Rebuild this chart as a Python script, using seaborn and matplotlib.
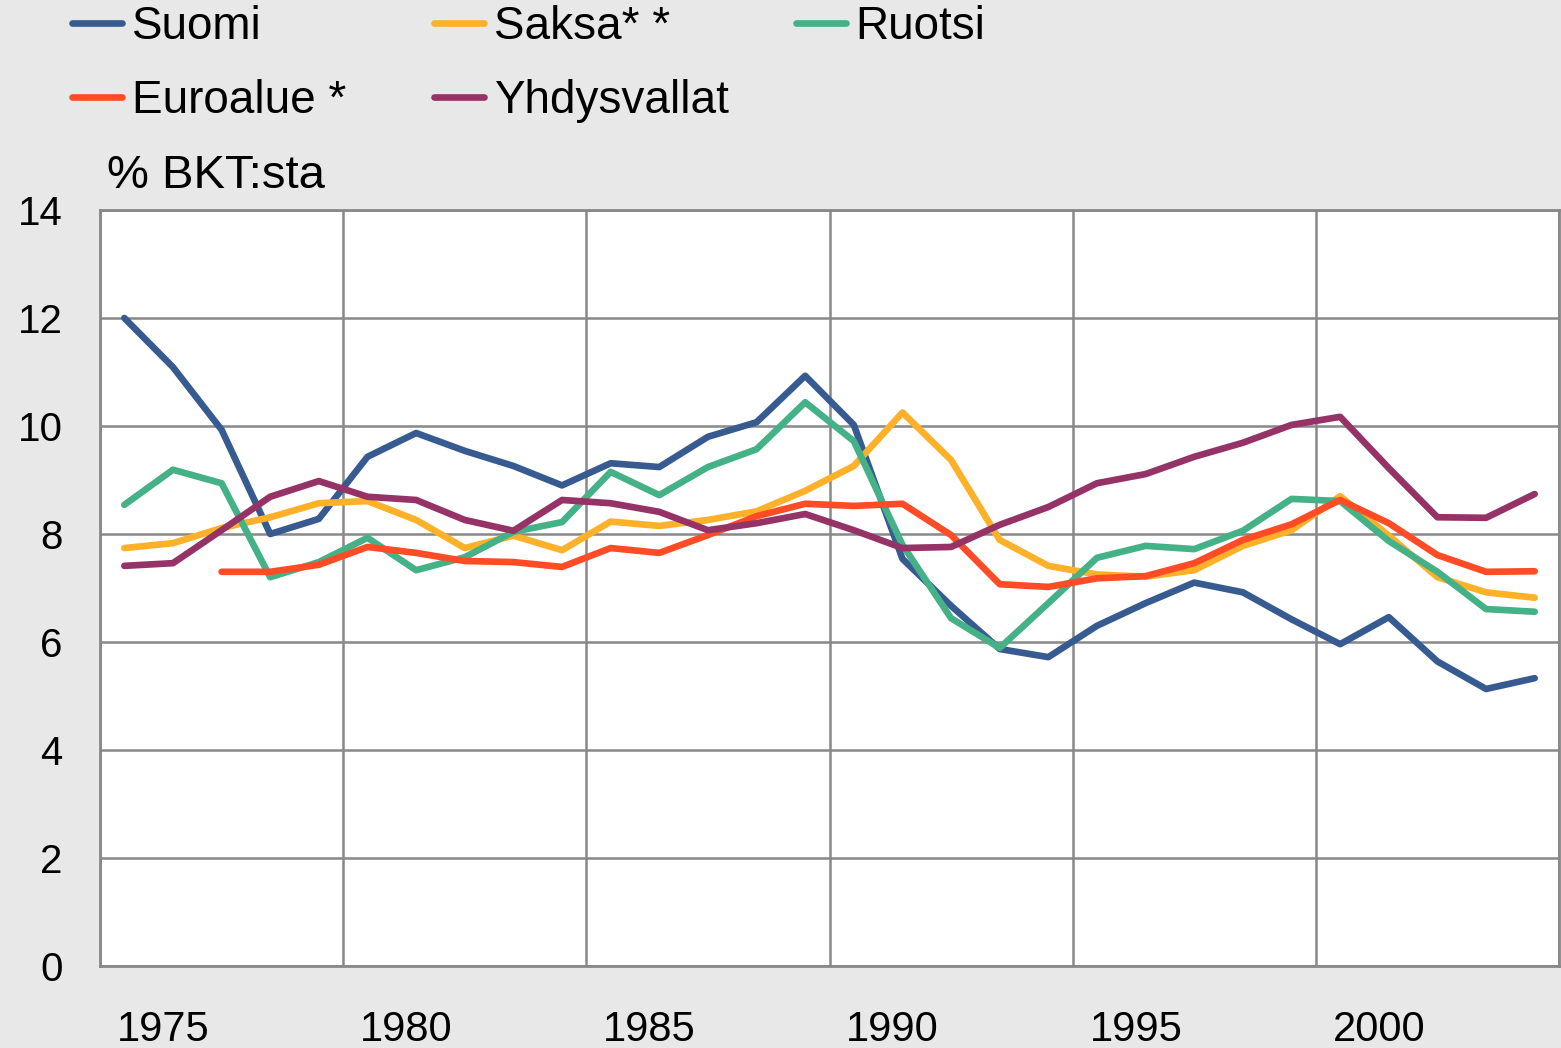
import numpy as np
import pandas as pd
import seaborn as sns
import matplotlib
matplotlib.use('Agg')
import matplotlib.pyplot as plt

# data
years = list(range(1974, 2004))
suomi = [12.0, 11.09, 9.93, 8.0, 8.28, 9.43, 9.87, 9.54, 9.26, 8.9, 9.31, 9.24, 9.8, 10.07, 10.93,
         10.02, 7.54, 6.67, 5.87, 5.72, 6.3, 6.72, 7.1, 6.92, 6.42, 5.96, 6.46, 5.64, 5.13, 5.33]
saksa = [7.74, 7.83, 8.11, 8.31, 8.57, 8.61, 8.26, 7.74, 7.97, 7.70, 8.23, 8.15, 8.26, 8.42, 8.8,
         9.26, 10.25, 9.37, 7.89, 7.41, 7.25, 7.21, 7.33, 7.78, 8.07, 8.70, 7.97, 7.2, 6.92, 6.82]
ruotsi = [8.54, 9.19, 8.94, 7.2, 7.48, 7.93, 7.33, 7.57, 8.04, 8.22, 9.15, 8.72, 9.24, 9.57, 10.44,
          9.72, 7.8, 6.44, 5.89, 6.72, 7.56, 7.78, 7.72, 8.06, 8.65, 8.61, 7.87, 7.3, 6.61, 6.56]
euroalue = [np.nan, np.nan, 7.3, 7.3, 7.43, 7.76, 7.65, 7.5, 7.48, 7.39, 7.74, 7.65, 7.98, 8.33, 8.56,
            8.52, 8.56, 7.98, 7.07, 7.02, 7.18, 7.22, 7.46, 7.89, 8.18, 8.63, 8.2, 7.61, 7.3, 7.31]
usa = [7.41, 7.46, 8.07, 8.69, 8.98, 8.69, 8.63, 8.26, 8.06, 8.63, 8.57, 8.41, 8.07, 8.2, 8.37,
       8.07, 7.74, 7.76, 8.17, 8.5, 8.94, 9.11, 9.43, 9.69, 10.02, 10.17, 9.22, 8.31, 8.30, 8.74]

names = ['Suomi', 'Saksa* *', 'Ruotsi', 'Euroalue *', 'Yhdysvallat']
colors = ['#375B91', '#FDB128', '#45B187', '#FF4C26', '#963366']
year_labels = ['1975', '1980', '1985', '1990', '1995', '2000']

df = pd.DataFrame({'vuosi': years, names[0]: suomi, names[1]: saksa, names[2]: ruotsi,
                   names[3]: euroalue, names[4]: usa})
long = df.melt(id_vars='vuosi', var_name='maa', value_name='arvo').dropna()

sns.set_style('white')
plt.rcParams['font.family'] = ['Liberation Sans', 'DejaVu Sans']
plt.rcParams['text.color'] = 'black'
plt.rcParams['xtick.color'] = 'black'
plt.rcParams['ytick.color'] = 'black'

grey = '#888888'
lw = 4.8
fig = plt.figure(figsize=(15.61, 10.48), dpi=100, facecolor='#E8E8E8')
ax = fig.add_axes([100 / 1561, 82 / 1048, 1459 / 1561, 756 / 1048])
ax.set_facecolor('white')

sns.lineplot(data=long, x='vuosi', y='arvo', hue='maa', hue_order=names,
             palette=colors, linewidth=lw, ax=ax, legend=False, zorder=3)
for ln in ax.get_lines():
    ln.set_solid_capstyle('round')
    ln.set_solid_joinstyle('round')

ax.set_xlim(years[0] - 0.5, years[-1] + 0.5)
ax.set_ylim(0, 14)
ax.set_yticks(range(0, 15, 2))
ax.set_yticklabels([str(v) for v in range(0, 15, 2)], fontsize=29)

# year labels, slightly left of the category centres as in the original
ax.set_xticks([int(y) - 0.2 for y in year_labels])
ax.set_xticklabels(year_labels, fontsize=30)
ax.tick_params(axis='x', which='major', length=0, pad=32)
ax.tick_params(axis='y', which='major', length=0, pad=27)
ax.set_xticks(np.arange(years[0] - 0.5, years[-1] + 1), minor=True)
ax.tick_params(axis='x', which='minor', direction='in', length=9, width=1, color=grey)

ax.yaxis.grid(True, color=grey, linewidth=1.8)
for b in np.arange(years[0] - 0.5, years[-1] + 1, 5):
    ax.axvline(b, color=grey, linewidth=1.8, zorder=1)
for s in ax.spines.values():
    s.set_color(grey)
    s.set_linewidth(2)
ax.set_xlabel('')
ax.set_ylabel('')

fig.text(107 / 1561, 1 - 188 / 1048, '% BKT:sta', fontsize=34, va='baseline')

# legend, three columns placed like the original
lines = ax.get_lines()
cols = [([0, 3], 72), ([1, 4], 434), ([2], 796)]
for idx, xpx in cols:
    leg = fig.legend([lines[i] for i in idx], [names[i] for i in idx],
                     loc='upper left', bbox_to_anchor=(xpx / 1561, 1 - 5 / 1048),
                     frameon=False, fontsize=33, handlelength=1.1, handletextpad=0.2,
                     labelspacing=0.66, borderpad=0, borderaxespad=0)
    for h in leg.legend_handles:
        h.set_linewidth(lw)
        h.set_solid_capstyle('round')

fig.savefig('out.png', dpi=100, facecolor=fig.get_facecolor())
